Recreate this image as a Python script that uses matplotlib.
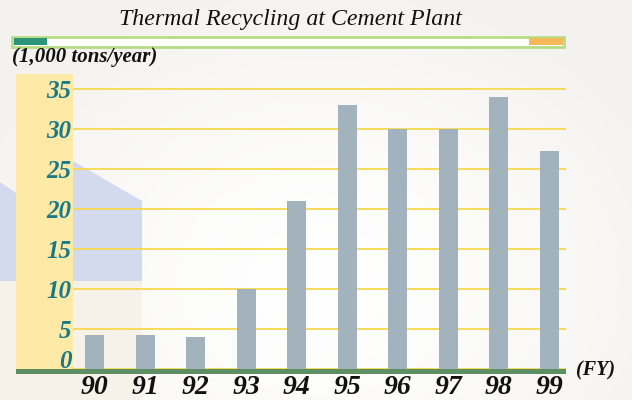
import numpy as np
import matplotlib
matplotlib.use("Agg")
import matplotlib.pyplot as plt
import matplotlib.transforms as mtransforms
from matplotlib.patches import Rectangle, Polygon

# ---- data ----
years = ["90", "91", "92", "93", "94", "95", "96", "97", "98", "99"]
values = [4.2, 4.2, 4.0, 10.0, 21.0, 33.0, 30.0, 30.0, 34.0, 27.3]
yticks = [0, 5, 10, 15, 20, 25, 30, 35]
title = "Thermal Recycling at Cement Plant"
unit_label = "(1,000 tons/year)"
fy_label = "(FY)"

W, H = 632, 400
fig = plt.figure(figsize=(W / 100, H / 100), dpi=100)

# background axes in pixel coordinates (y downward)
bg = fig.add_axes([0, 0, 1, 1])
bg.set_xlim(0, W)
bg.set_ylim(H, 0)
bg.axis("off")

# soft gradient background
yy, xx = np.mgrid[0:H, 0:W]
d = np.sqrt(((xx - 320) / 380.0) ** 2 + ((yy - 280) / 300.0) ** 2)
t = np.clip(d, 0, 1) ** 1.5
c_in = np.array([1.0, 1.0, 1.0])
c_out = np.array([0.955, 0.950, 0.935])
img = c_in[None, None, :] * (1 - t[..., None]) + c_out[None, None, :] * t[..., None]
bg.imshow(img, extent=(0, W, H, 0), aspect="auto", zorder=0)

# beige block and lavender building shape on the left
bg.add_patch(Rectangle((0, 281), 142, H - 281, facecolor="#f6f1e9", edgecolor="none", zorder=1))
bg.add_patch(Polygon([(0, 182), (16, 193), (40, 150), (73, 161), (142, 201),
                      (142, 281), (0, 281)], closed=True,
                     facecolor="#d4daee", edgecolor="none", zorder=1))

# yellow column behind y tick labels
bg.add_patch(Rectangle((16, 74), 57, 295, facecolor="#feeaa6", edgecolor="none", zorder=2))

# title bar
bg.add_patch(Rectangle((12, 36.5), 552, 10, facecolor="white", edgecolor="#b8dc84",
                       linewidth=2, zorder=3))
bg.add_patch(Rectangle((13.5, 38), 33, 7, facecolor="#2b957a", edgecolor="none", zorder=4))
bg.add_patch(Rectangle((529, 38), 33.5, 7, facecolor="#f5b95a", edgecolor="none", zorder=4))

# green base bar
bg.add_patch(Rectangle((16, 369), 550, 4.5, facecolor="#5e8f62", edgecolor="none", zorder=3))

# texts
bg.text(290, 19, title, ha="center", va="center", fontsize=17.2, style="italic",
        family="Liberation Serif", color="#111111", zorder=5)
bg.text(12, 57, unit_label, ha="left", va="center", fontsize=15, style="italic",
        weight="bold", family="Liberation Serif", color="#111111", zorder=5)
bg.text(576, 370, fy_label, ha="left", va="center", fontsize=14.5, style="italic",
        weight="bold", family="Liberation Serif", color="#111111", zorder=5)

# ---- chart axes ----
left, right, top, bottom = 73, 566, 74, 369
ax = fig.add_axes([left / W, (H - bottom) / H, (right - left) / W, (bottom - top) / H])
ax.set_facecolor("none")
x = np.arange(len(years))
ax.bar(x, values, width=0.38, color="#a3b3bd", zorder=3)
ax.set_xlim(-0.43, 9.33)
ax.set_ylim(0, (bottom - top) / 8.0)
for yt in yticks:
    ax.axhline(yt, color="#f6d94c", linewidth=1.3, zorder=2)
ax.set_yticks(yticks)
ax.set_yticklabels([str(v) for v in yticks])
ax.set_xticks(x)
ax.set_xticklabels(years)
for s in ax.spines.values():
    s.set_visible(False)
ax.tick_params(axis="both", length=0)
ax.tick_params(axis="y", pad=1)
ax.tick_params(axis="x", pad=4)
for lab in ax.get_yticklabels():
    lab.set_fontfamily("Liberation Serif")
    lab.set_fontstyle("italic")
    lab.set_fontweight("bold")
    lab.set_fontsize(18)
    lab.set_color("#17798a")
for lab in ax.get_xticklabels():
    lab.set_fontfamily("Liberation Serif")
    lab.set_fontstyle("italic")
    lab.set_fontweight("bold")
    lab.set_fontsize(20)
    lab.set_color("#111111")

# the zero label sits just above the base line
zero_lab = ax.get_yticklabels()[0]
zero_lab.set_transform(zero_lab.get_transform()
                       + mtransforms.ScaledTranslation(0, 10 / 100, fig.dpi_scale_trans))

fig.savefig("out.png", dpi=100)
